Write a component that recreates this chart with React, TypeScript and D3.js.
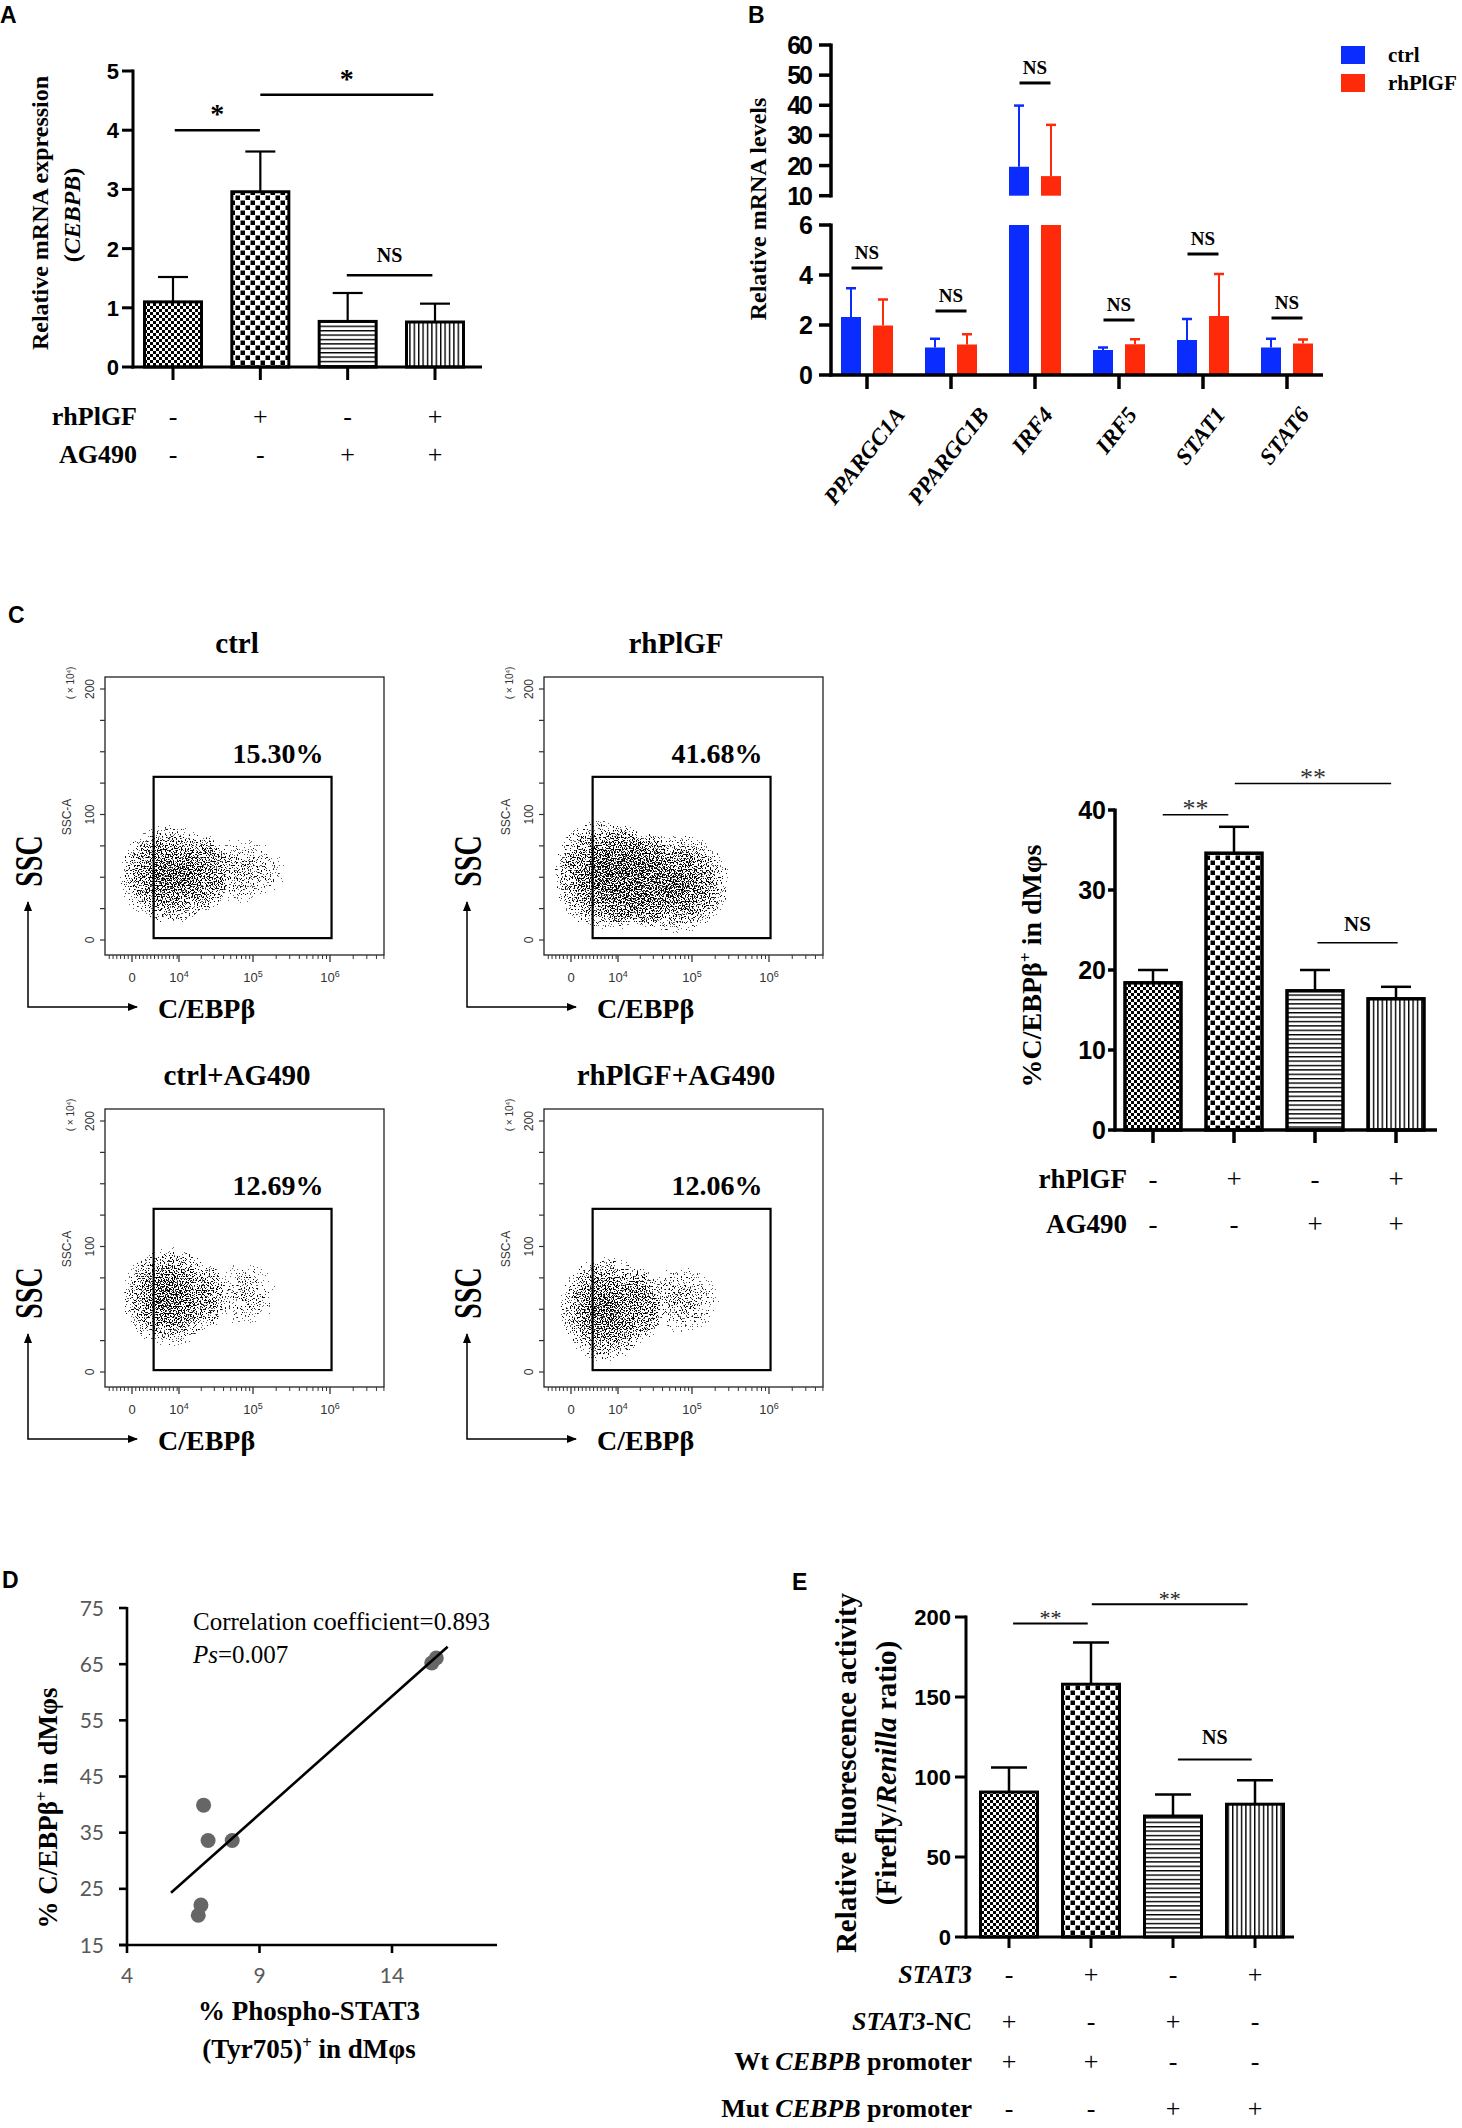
import { useEffect, useRef } from "react";
import * as d3 from "d3";

const SERIF = "'Liberation Serif','Times New Roman',serif";
const SANS = "'Liberation Sans',Arial,sans-serif";
const CALIBRI = "Lato,'Open Sans',sans-serif";

// ---------- Panel A : CEBPB mRNA ----------
const aMeans = [1.1, 2.96, 0.77, 0.76];
const aErrs = [1.52, 3.64, 1.25, 1.07];
const aTicks = [0, 1, 2, 3, 4, 5];
const aRhPlGF = ["-", "+", "-", "+"];
const aAG490 = ["-", "-", "+", "+"];
const aSigFrom = [0.02, 1.0, 1.99];
const aSigTo = [0.995, 2.98, 2.97];
const aSigY = [4.0, 4.6, 1.55];
const aSigLabel = ["*", "*", "NS"];

// ---------- Panel B : gene panel ----------
const bGenes = ["PPARGC1A", "PPARGC1B", "IRF4", "IRF5", "STAT1", "STAT6"];
const bCtrl = [2.32, 1.1, 19.6, 1.0, 1.4, 1.1];
const bCtrlErr = [3.47, 1.45, 39.9, 1.1, 2.24, 1.45];
const bPlgf = [1.98, 1.22, 16.5, 1.23, 2.36, 1.26];
const bPlgfErr = [3.02, 1.63, 33.5, 1.43, 4.04, 1.42];
const bNsY = [4.28, 2.56, 47.4, 2.2, 4.84, 2.28];
const bLowTicks = [0, 2, 4, 6];
const bHighTicks = [10, 20, 30, 40, 50, 60];
const bSeries = ["ctrl", "rhPlGF"];
const bColors = ["#0a2cff", "#ff2a0a"];

// ---------- Panel C : flow plots ----------
const flowTitles = ["ctrl", "rhPlGF", "ctrl+AG490", "rhPlGF+AG490"];
const flowPercents = ["15.30%", "41.68%", "12.69%", "12.06%"];
const flowYTicks = [0, 100, 200];
const flowXLabels = ["0", "10", "10", "10"];
const flowXExp = ["", "4", "5", "6"];
// cell clouds (x in decades of the C/EBPβ axis, y in SSC-A units)
const blobPlot = [0, 0, 1, 1, 1, 2, 2, 3, 3];
const blobCx = [0.8, 1.85, 0.6, 1.8, 1.2, 0.8, 1.9, 0.75, 1.85];
const blobCy = [52, 55, 52, 45, 50, 60, 62, 50, 58];
const blobRx = [1.0, 0.85, 0.95, 0.8, 0.6, 0.95, 0.65, 0.95, 0.75];
const blobRy = [45, 38, 50, 45, 45, 45, 40, 48, 40];
const blobDensity = [1, 0.7, 1, 1, 0.85, 1, 0.66, 1, 0.7];
const gateX = [0.46, 3.02];
const gateY = [1.5, 130];

// ---------- Panel C : summary bars ----------
const cMeans = [18.4, 34.6, 17.4, 16.4];
const cErrs = [20.0, 37.9, 20.0, 17.9];
const cTicks = [0, 10, 20, 30, 40];
const cSigFrom = [0.12, 1.01, 2.03];
const cSigTo = [0.93, 2.94, 3.02];
const cSigY = [39.4, 43.3, 23.4];
const cSigLabel = ["**", "**", "NS"];

// ---------- Panel D : correlation ----------
const dX = [6.89, 7.06, 7.97, 6.79, 6.69, 15.5, 15.67];
const dY = [39.9, 33.6, 33.6, 22.1, 20.3, 65.2, 66.1];
const dFitX = [5.66, 16.1];
const dFitY = [24.3, 68.1];
const dYTicks = [15, 25, 35, 45, 55, 65, 75];
const dXTicks = [4, 9, 14];

// ---------- Panel E : luciferase ----------
const eMeans = [90.6, 158, 75.6, 83];
const eErrs = [106, 184, 89, 98];
const eTicks = [0, 50, 100, 150, 200];
const eStat3 = ["-", "+", "-", "+"];
const eStat3NC = ["+", "-", "+", "-"];
const eWt = ["+", "+", "-", "-"];
const eMut = ["-", "-", "+", "+"];
const eSigFrom = [0.05, 1.01, 2.06];
const eSigTo = [0.96, 2.91, 2.96];
const eSigY = [196, 208, 111];
const eSigLabel = ["**", "**", "NS"];

const barFills = ["fineCheck", "bigCheck", "hLines", "vLines"];

type Part = [string, string?];

export default function App() {
  const ref = useRef<SVGSVGElement>(null);

  useEffect(() => {
    const svg = d3.select(ref.current);
    svg.selectAll("*").remove();
    const defs = svg.append("defs");

    // patterns for the bars
    const pat = (id: string, w: number, h: number, draw: (p: any) => void) => {
      const p = defs.append("pattern").attr("id", id).attr("patternUnits", "userSpaceOnUse").attr("width", w).attr("height", h);
      p.append("rect").attr("width", w).attr("height", h).attr("fill", "#fff");
      draw(p);
    };
    pat("fineCheck", 6, 6, (p) => {
      p.append("rect").attr("width", 3).attr("height", 3);
      p.append("rect").attr("x", 3).attr("y", 3).attr("width", 3).attr("height", 3);
    });
    pat("bigCheck", 10, 10, (p) => {
      p.append("rect").attr("x", 0.5).attr("y", 0.5).attr("width", 4.5).attr("height", 4.5);
      p.append("rect").attr("x", 5.5).attr("y", 5.5).attr("width", 4.5).attr("height", 4.5);
    });
    pat("hLines", 8, 4.4, (p) => p.append("rect").attr("width", 8).attr("height", 1.4));
    pat("vLines", 4.4, 8, (p) => p.append("rect").attr("width", 1.4).attr("height", 8));

    // speckle filter for flow cytometry dots
    const f = defs.append("filter").attr("id", "speckle").attr("color-interpolation-filters", "sRGB");
    f.append("feTurbulence").attr("type", "fractalNoise").attr("baseFrequency", 0.75).attr("numOctaves", 1).attr("seed", 7).attr("result", "noise");
    f.append("feColorMatrix").attr("in", "noise").attr("type", "matrix")
      .attr("values", "0 0 0 0 0  0 0 0 0 0  0 0 0 0 0  2.5 0 0 0 -0.75").attr("result", "na");
    f.append("feComposite").attr("in", "na").attr("in2", "SourceAlpha").attr("operator", "arithmetic")
      .attr("k1", 1).attr("k2", 0).attr("k3", 0).attr("k4", 0).attr("result", "prod");
    f.append("feComponentTransfer").attr("in", "prod").append("feFuncA").attr("type", "discrete")
      .attr("tableValues", "0 0 0 0 0 0 0 0 0 0.6 0.9 1 1 1 1 1 1 1 1 1");
    const rg = defs.append("radialGradient").attr("id", "blobGrad");
    rg.append("stop").attr("offset", "0").attr("stop-color", "#000").attr("stop-opacity", 1);
    rg.append("stop").attr("offset", "0.5").attr("stop-color", "#000").attr("stop-opacity", 0.78);
    rg.append("stop").attr("offset", "0.85").attr("stop-color", "#000").attr("stop-opacity", 0.5);
    rg.append("stop").attr("offset", "1").attr("stop-color", "#000").attr("stop-opacity", 0.2);

    const mk = defs.append("marker").attr("id", "arrow").attr("markerUnits", "userSpaceOnUse")
      .attr("markerWidth", 10).attr("markerHeight", 8).attr("refX", 9).attr("refY", 4).attr("orient", "auto-start-reverse");
    mk.append("path").attr("d", "M0,0L10,4L0,8Z").attr("fill", "#000");

    const g = svg.append("g");

    const ln = (x1: number, y1: number, x2: number, y2: number, w: number, c = "#000") =>
      g.append("line").attr("x1", x1).attr("y1", y1).attr("x2", x2).attr("y2", y2).attr("stroke", c).attr("stroke-width", w);

    const tx = (x: number, y: number, s: string, size: number, o: any = {}) =>
      g.append("text").attr("x", x).attr("y", y)
        .attr("font-family", o.family ?? SERIF).attr("font-size", size)
        .attr("font-weight", o.weight ?? "bold").attr("font-style", o.style ?? "normal")
        .attr("text-anchor", o.anchor ?? "middle").attr("fill", o.fill ?? "#000").text(s);

    // rich text: parts [text, flags] flags: "i" italic, "s" superscript
    const rich = (t: any, parts: Part[], size: number) => {
      let up = false;
      parts.forEach(([s, fl]) => {
        const sp = t.append("tspan").text(s);
        if (fl && fl.includes("i")) sp.attr("font-style", "italic");
        if (fl && fl.includes("s")) {
          sp.attr("font-size", size * 0.62).attr("dy", -size * 0.38);
          up = true;
        } else if (up) {
          sp.attr("dy", size * 0.38);
          up = false;
        }
      });
      return t;
    };
    const hrich = (x: number, y: number, parts: Part[], size: number, anchor = "middle", weight = "bold") => {
      const t = g.append("text").attr("x", x).attr("y", y).attr("font-family", SERIF).attr("font-size", size)
        .attr("font-weight", weight).attr("text-anchor", anchor);
      return rich(t, parts, size);
    };
    const vrich = (cx: number, cy: number, parts: Part[], size: number, family = SERIF, weight = "bold", fill = "#000") => {
      const t = g.append("text").attr("transform", `translate(${cx + 0.33 * size},${cy}) rotate(-90)`)
        .attr("font-family", family).attr("font-size", size).attr("font-weight", weight)
        .attr("text-anchor", "middle").attr("fill", fill);
      return rich(t, parts, size);
    };

    const drawBars = (xs: any, ys: any, means: number[], errs: number[], base: number, barW: number, capW: number, outline: number, errW: number) => {
      means.forEach((m, i) => {
        const cx = xs(i);
        ln(cx, ys(m), cx, ys(errs[i]), errW);
        ln(cx - capW / 2, ys(errs[i]), cx + capW / 2, ys(errs[i]), errW);
        g.append("rect").attr("x", cx - barW / 2).attr("y", ys(m)).attr("width", barW).attr("height", base - ys(m))
          .attr("fill", `url(#${barFills[i]})`).attr("stroke", "#000").attr("stroke-width", outline);
      });
    };
    const drawSig = (xs: any, ys: any, from: number[], to: number[], yv: number[], labels: string[], o: any) => {
      from.forEach((fr, i) => {
        const y = ys(yv[i]);
        ln(xs(fr), y, xs(to[i]), y, o.lw);
        const isNS = labels[i] === "NS";
        tx((xs(fr) + xs(to[i])) / 2, y - (isNS ? o.nsOff : o.starOff), labels[i], isNS ? o.nsSize : o.starSize,
          { weight: isNS ? "bold" : o.starWeight, fill: isNS ? "#000" : o.starFill });
      });
    };
    const yAxis = (ax: number, ys: any, ticks: number[], tickLen: number, labelRight: number, size: number, lw: number) => {
      ticks.forEach((t) => {
        ln(ax - tickLen, ys(t), ax, ys(t), lw);
        tx(labelRight, ys(t) + size * 0.36, String(t), size, { family: SANS, anchor: "end" });
      });
    };
    const signRows = (xs: any, rows: string[][], ys: number[], size: number) => {
      rows.forEach((r, j) => r.forEach((s, i) => tx(xs(i), ys[j], s, size, { weight: "normal" })));
    };

    // ================= Panel A =================
    tx(0, 23, "A", 23, { family: SANS, anchor: "start" });
    {
      const xs = d3.scaleLinear().domain([0, 3]).range([173, 435]);
      const ys = d3.scaleLinear().domain([0, 5]).range([367, 71]);
      drawBars(xs, ys, aMeans, aErrs, 367, 57, 30, 3, 2.2);
      ln(133, 69.5, 133, 368.5, 3);
      ln(131.5, 367, 482, 367, 3);
      yAxis(133, ys, aTicks, 11, 119, 22, 3);
      aMeans.forEach((_, i) => ln(xs(i), 367, xs(i), 380, 3));
      drawSig(xs, ys, aSigFrom, aSigTo, aSigY, aSigLabel, { lw: 2.5, starOff: 7, nsOff: 13, starSize: 28, nsSize: 20, starWeight: "bold", starFill: "#000" });
      vrich(40, 213, [["Relative mRNA expression"]], 24);
      vrich(72, 215, [["("], ["CEBPB", "i"], [")"]], 24);
      tx(137, 425, "rhPlGF", 26, { anchor: "end" });
      tx(137, 463, "AG490", 26, { anchor: "end" });
      signRows(xs, [aRhPlGF, aAG490], [425, 463], 26);
    }

    // ================= Panel B =================
    tx(748, 23, "B", 23, { family: SANS, anchor: "start" });
    {
      const xs = d3.scaleLinear().domain([0, 5]).range([867, 1287]);
      const yLow = d3.scaleLinear().domain([0, 6]).range([375, 225]);
      const yHigh = d3.scaleLinear().domain([10, 60]).range([195.7, 45]);
      const yv = (v: number) => (v <= 6 ? yLow(v) : yHigh(v));
      const series = [
        { vals: bCtrl, errs: bCtrlErr, dx: -16 },
        { vals: bPlgf, errs: bPlgfErr, dx: 16 },
      ];
      series.forEach((s, k) => {
        s.vals.forEach((v, i) => {
          const cx = xs(i) + s.dx;
          const c = bColors[k];
          ln(cx, yv(v), cx, yv(s.errs[i]), 2, c);
          ln(cx - 5, yv(s.errs[i]), cx + 5, yv(s.errs[i]), 2.5, c);
          if (v <= 6) {
            g.append("rect").attr("x", cx - 10).attr("y", yLow(v)).attr("width", 20).attr("height", 375 - yLow(v)).attr("fill", c);
          } else {
            g.append("rect").attr("x", cx - 10).attr("y", yLow(6)).attr("width", 20).attr("height", 375 - yLow(6)).attr("fill", c);
            g.append("rect").attr("x", cx - 10).attr("y", yHigh(v)).attr("width", 20).attr("height", yHigh(10) - yHigh(v)).attr("fill", c);
          }
        });
      });
      ln(831, 376.5, 831, 223.5, 3.5);
      ln(831, 197.5, 831, 43.5, 3.5);
      ln(829.5, 375, 1323, 375, 3.5);
      [...bLowTicks.map((t) => yLow(t)), ...bHighTicks.map((t) => yHigh(t))].forEach((y, k) => {
        const t = k < bLowTicks.length ? bLowTicks[k] : bHighTicks[k - bLowTicks.length];
        ln(819, y, 831, y, 3.5);
        tx(811, y + 9, String(t), 25, { family: SANS, anchor: "end" }).attr("letter-spacing", -2);
      });
      bGenes.forEach((name, i) => {
        ln(xs(i), 375, xs(i), 389, 3.5);
        const y = yv(bNsY[i]);
        ln(xs(i) - 15.5, y, xs(i) + 15.5, y, 3);
        tx(xs(i), y - 9, "NS", 19);
        const t = g.append("text").attr("font-family", SERIF).attr("font-size", 23).attr("font-weight", "bold")
          .attr("font-style", "italic").attr("text-anchor", "middle").attr("dy", "0.35em").text(name);
        const L = (t.node() as SVGTextElement).getComputedTextLength();
        const a = (52 * Math.PI) / 180;
        const cy = 405 + (L * Math.sin(a) + 16 * Math.cos(a)) / 2;
        t.attr("transform", `translate(${xs(i) - 3},${cy}) rotate(-52)`);
      });
      vrich(758, 209, [["Relative mRNA levels"]], 24);
      bSeries.forEach((s, k) => {
        g.append("rect").attr("x", 1341).attr("y", 46 + k * 28).attr("width", 24).attr("height", 18).attr("fill", bColors[k]);
        tx(1388, 62 + k * 28, s, 21, { anchor: "start" });
      });
    }

    // ================= Panel C flow plots =================
    tx(8, 623, "C", 23, { family: SANS, anchor: "start" });
    const origins = [
      [105, 677],
      [544, 677],
      [105, 1109],
      [544, 1109],
    ];
    origins.forEach(([ox, oy], p) => {
      const xs = d3.scaleLinear().domain([-0.57, 0, 1, 2, 3, 3.7]).range([ox, ox + 27, ox + 74, ox + 148, ox + 225, ox + 279]);
      const ys = d3.scaleLinear().domain([0, 200]).range([oy + 263, oy + 12]);
      const clipId = `clip${p}`;
      defs.append("clipPath").attr("id", clipId).append("rect").attr("x", ox).attr("y", oy).attr("width", 279).attr("height", 278);
      const cloud = g.append("g").attr("clip-path", `url(#${clipId})`).append("g").attr("filter", "url(#speckle)");
      blobPlot.forEach((bp, k) => {
        if (bp !== p) return;
        const rxp = (xs(blobCx[k] + blobRx[k]) - xs(blobCx[k] - blobRx[k])) / 2;
        const ryp = Math.abs(ys(blobCy[k] + blobRy[k]) - ys(blobCy[k] - blobRy[k])) / 2;
        cloud.append("ellipse").attr("cx", xs(blobCx[k])).attr("cy", ys(blobCy[k])).attr("rx", rxp).attr("ry", ryp)
          .attr("fill", "url(#blobGrad)").attr("opacity", blobDensity[k]);
      });
      g.append("rect").attr("x", ox).attr("y", oy).attr("width", 279).attr("height", 278).attr("fill", "none").attr("stroke", "#222").attr("stroke-width", 1.3);
      // y ticks
      d3.range(0, 201, 25).forEach((v) => ln(ox - 5, ys(v), ox, ys(v), 1.2, "#333"));
      flowYTicks.forEach((v) => vrich(ox - 15, ys(v), [[String(v)]], 12, SANS, "normal", "#333"));
      vrich(ox - 38, ys(98), [["SSC-A"]], 12, SANS, "normal", "#333");
      vrich(ox - 34, oy + 6, [["( × 10"], ["4", "s"], [")"]], 10, SANS, "normal", "#333");
      // x ticks
      const minor = [
        ...d3.range(-0.48, 0.99, 0.08).filter((v) => Math.abs(v) > 0.03),
        ...[1, 2].flatMap((d) => d3.range(2, 10).map((k) => d + Math.log10(k))),
        ...d3.range(2, 6).map((k) => 3 + Math.log10(k)),
      ];
      minor.forEach((v) => ln(xs(v), oy + 278, xs(v), oy + 282, 1, "#333"));
      [0, 1, 2, 3].forEach((v) => ln(xs(v), oy + 278, xs(v), oy + 285, 1.3, "#333"));
      flowXLabels.forEach((s, i) => {
        const t = g.append("text").attr("x", xs(i)).attr("y", oy + 305).attr("font-family", SANS).attr("font-size", 13)
          .attr("text-anchor", "middle").attr("fill", "#333");
        t.append("tspan").text(s);
        if (flowXExp[i]) t.append("tspan").attr("font-size", 9).attr("dy", -5).text(flowXExp[i]);
      });
      // gate
      g.append("rect").attr("x", xs(gateX[0])).attr("y", ys(gateY[1])).attr("width", xs(gateX[1]) - xs(gateX[0]))
        .attr("height", ys(gateY[0]) - ys(gateY[1])).attr("fill", "none").attr("stroke", "#000").attr("stroke-width", 2.2);
      tx(ox + 173, oy + 86, flowPercents[p], 28);
      tx(ox + 132, oy - 24, flowTitles[p], 29);
      // arrows and axis names
      g.append("path").attr("d", `M${ox + 32},${oy + 330}L${ox - 77},${oy + 330}L${ox - 77},${oy + 225}`)
        .attr("fill", "none").attr("stroke", "#000").attr("stroke-width", 1.5)
        .attr("marker-start", "url(#arrow)").attr("marker-end", "url(#arrow)");
      g.append("text").attr("transform", `translate(${ox - 63},${oy + 184}) rotate(-90) scale(1,1.45)`)
        .attr("font-family", SERIF).attr("font-size", 28).attr("font-weight", "bold").attr("text-anchor", "middle").text("SSC");
      tx(ox + 53, oy + 341, "C/EBPβ", 28, { anchor: "start" });
    });

    // ================= Panel C bar chart =================
    {
      const xs = d3.scaleLinear().domain([0, 3]).range([1153, 1396]);
      const ys = d3.scaleLinear().domain([0, 40]).range([1130, 810]);
      drawBars(xs, ys, cMeans, cErrs, 1130, 56, 30, 3.5, 2.5);
      ln(1115, 808.5, 1115, 1131.5, 3.5);
      ln(1113.5, 1130, 1437, 1130, 3.5);
      yAxis(1115, ys, cTicks, 7, 1106, 25, 3.5);
      cMeans.forEach((_, i) => ln(xs(i), 1130, xs(i), 1143, 3.5));
      drawSig(xs, ys, cSigFrom, cSigTo, cSigY, cSigLabel, { lw: 1.5, starOff: -2, nsOff: 12, starSize: 26, nsSize: 21, starWeight: "normal", starFill: "#333" });
      vrich(1032, 966, [["%C/EBPβ"], ["+", "s"], [" in dMφs"]], 28);
      tx(1127, 1188, "rhPlGF", 27, { anchor: "end" });
      tx(1127, 1233, "AG490", 27, { anchor: "end" });
      signRows(xs, [["-", "+", "-", "+"], ["-", "-", "+", "+"]], [1188, 1233], 27);
    }

    // ================= Panel D =================
    tx(2, 1588, "D", 23, { family: SANS, anchor: "start" });
    {
      const xs = d3.scaleLinear().domain([4, 18]).range([127, 498]);
      const ys = d3.scaleLinear().domain([15, 75]).range([1945, 1608]);
      dX.forEach((x, i) => {
        g.append("circle").attr("cx", xs(x)).attr("cy", ys(dY[i])).attr("r", 7.5).attr("fill", "#666");
      });
      g.append("path").attr("d", d3.line()(dFitX.map((x, i) => [xs(x), ys(dFitY[i])]) as any))
        .attr("stroke", "#000").attr("stroke-width", 2.6).attr("fill", "none");
      ln(127, 1607, 127, 1946, 2.6);
      ln(119, 1945, 497, 1945, 2.6);
      dYTicks.forEach((t) => {
        ln(119, ys(t), 127, ys(t), 2.6);
        tx(104, ys(t) + 7.5, String(t), 21, { family: CALIBRI, weight: "normal", anchor: "end", fill: "#595959" });
      });
      dXTicks.forEach((t) => {
        ln(xs(t), 1945, xs(t), 1953, 2.6);
        tx(xs(t), 1983, String(t), 21, { family: CALIBRI, weight: "normal", fill: "#595959" });
      });
      tx(193, 1630, "Correlation coefficient=0.893", 25, { weight: "normal", anchor: "start" });
      hrich(193, 1663, [["Ps", "i"], ["=0.007"]], 25, "start", "normal");
      vrich(48, 1808, [["% C/EBPβ"], ["+", "s"], [" in dMφs"]], 27);
      hrich(309, 2020, [["% Phospho-STAT3"]], 27);
      hrich(309, 2058, [["(Tyr705)"], ["+", "s"], [" in dMφs"]], 27);
    }

    // ================= Panel E =================
    tx(792, 1590, "E", 23, { family: SANS, anchor: "start" });
    {
      const xs = d3.scaleLinear().domain([0, 3]).range([1009, 1255]);
      const ys = d3.scaleLinear().domain([0, 200]).range([1937, 1617]);
      drawBars(xs, ys, eMeans, eErrs, 1937, 57, 36, 3, 2.5);
      ln(966, 1615.5, 966, 1938.5, 3);
      ln(964.5, 1937, 1294, 1937, 3);
      yAxis(966, ys, eTicks, 11, 951, 22, 3);
      eMeans.forEach((_, i) => ln(xs(i), 1937, xs(i), 1948, 3));
      drawSig(xs, ys, eSigFrom, eSigTo, eSigY, eSigLabel, { lw: 2, starOff: -2, nsOff: 15, starSize: 22, nsSize: 20, starWeight: "normal", starFill: "#222" });
      vrich(846, 1773, [["Relative fluorescence activity"]], 29);
      vrich(886, 1773, [["(Firefly/"], ["Renilla", "i"], [" ratio)"]], 29);
      const rowsY = [1983, 2030, 2070, 2117];
      const rowLabels: Part[][] = [
        [["STAT3", "i"]],
        [["STAT3", "i"], ["-NC"]],
        [["Wt "], ["CEBPB", "i"], [" promoter"]],
        [["Mut "], ["CEBPB", "i"], [" promoter"]],
      ];
      rowLabels.forEach((parts, j) => hrich(972, rowsY[j], parts, 26, "end"));
      signRows(xs, [eStat3, eStat3NC, eWt, eMut], rowsY, 26);
    }
  }, []);

  return (
    <svg
      ref={ref}
      width={1462}
      height={2128}
      style={{ position: "absolute", left: 0, top: 0, background: "#fff" }}
    />
  );
}
